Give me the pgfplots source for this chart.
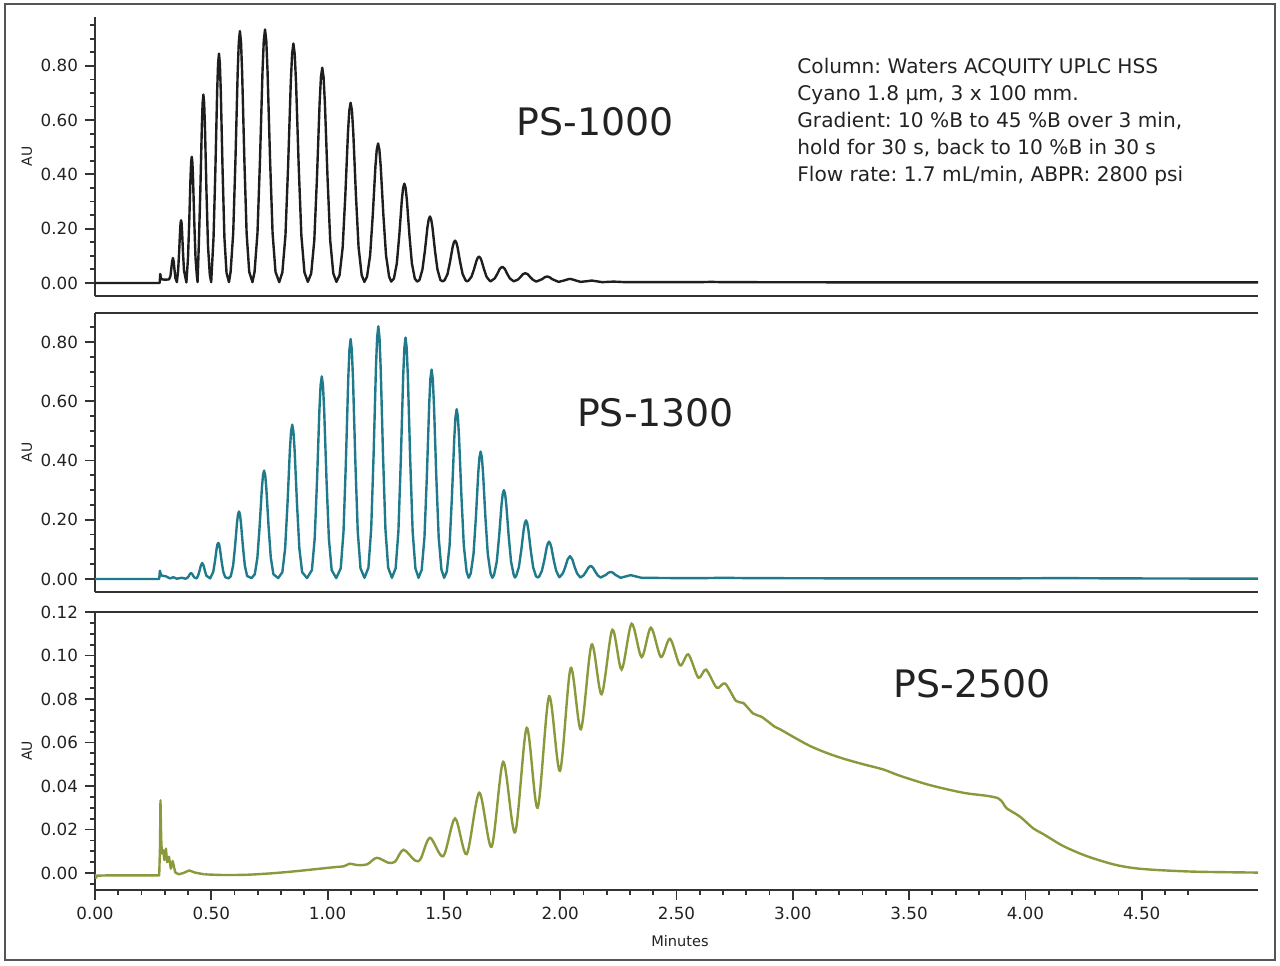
\documentclass[border=0pt]{standalone}
\usepackage{fontspec}
\setmainfont{DejaVu Sans}
\usepackage{pgfplots}
\pgfplotsset{compat=1.18}
\definecolor{axcol}{HTML}{333333}
\definecolor{framecol}{HTML}{555555}
\definecolor{sone}{HTML}{1E1E1E}
\definecolor{stwo}{HTML}{1F7A8C}
\definecolor{sthree}{HTML}{8A993C}
\definecolor{txt}{HTML}{222222}
\pgfplotsset{
  chrom/.style={
    scale only axis, width=581.5bp, xmin=0, xmax=5.0,
    axis x line=bottom, axis y line=left,
    axis line style={-, draw=axcol, line width=1bp},
    tick align=outside,
    major tick length=5bp, minor tick length=2.6bp,
    every tick/.style={axcol, line width=0.9bp},
    clip mode=individual,
    tick label style={font=\fontsize{8.4}{10}\selectfont, text=txt},
    yticklabel style={/pgf/number format/.cd, fixed, fixed zerofill, precision=2, assume math mode=true},
    xticklabel style={/pgf/number format/.cd, fixed, fixed zerofill, precision=2, assume math mode=true},
    ylabel={AU},
    ylabel style={at={(axis description cs:-0.0585,0.5)}, anchor=center, font=\fontsize{7}{8}\selectfont, text=txt},
    anchor=south west,
  }
}
\begin{document}
\frenchspacing
\begin{tikzpicture}
\path[use as bounding box] (0,0) rectangle (640bp,483bp);
\draw[framecol, line width=1bp] (2.5bp,3bp) rectangle (637.5bp,481bp);

% Panel 1: PS-1000
\begin{axis}[chrom, at={(47.5bp,335bp)}, height=139.5bp,
  ymin=-0.048, ymax=0.98, xtick=\empty,
  ytick={0,0.2,0.4,0.6,0.8},
  minor ytick={0.05,0.1,0.15,0.25,0.3,0.35,0.45,0.5,0.55,0.65,0.7,0.75,0.85,0.9,0.95}]
\addplot[sone, line width=1.2bp, line join=round] coordinates {
(0,0) (0.278,0) (0.2805,0.033) (0.2845,0.014) (0.300,0.012) (0.318,0.013)
(0.3242,0.025) (0.3278,0.050) (0.3314,0.078) (0.335,0.092) (0.3386,0.077) (0.3422,0.045) (0.3458,0.018) (0.352,0.003)
(0.3574,0.046) (0.3616,0.112) (0.3658,0.193) (0.3679,0.221) (0.370,0.231) (0.3721,0.221) (0.3742,0.193) (0.3784,0.112) (0.3826,0.046) (0.393,0.002)
(0.3998,0.092) (0.4052,0.226) (0.4106,0.388) (0.4133,0.445) (0.416,0.465) (0.4187,0.445) (0.4214,0.388) (0.4268,0.226) (0.4322,0.092) (0.4385,0.020) (0.441,0.003)
(0.4462,0.137) (0.4528,0.338) (0.4594,0.579) (0.4627,0.663) (0.466,0.694) (0.4693,0.663) (0.4726,0.579) (0.4792,0.338) (0.4858,0.137) (0.4935,0.031) (0.4995,0.003)
(0.5096,0.167) (0.5174,0.412) (0.5252,0.706) (0.5291,0.808) (0.533,0.845) (0.5369,0.808) (0.5408,0.706) (0.5486,0.412) (0.5564,0.167) (0.5655,0.037) (0.576,0.003)
(0.583,0.041) (0.5942,0.184) (0.6038,0.452) (0.6134,0.775) (0.6182,0.887) (0.623,0.928) (0.6278,0.887) (0.6326,0.775) (0.6422,0.452) (0.6518,0.184) (0.663,0.041) (0.677,0.003)
(0.686,0.041) (0.6986,0.185) (0.7094,0.455) (0.7202,0.780) (0.7256,0.893) (0.731,0.934) (0.7364,0.893) (0.7418,0.780) (0.7526,0.455) (0.7634,0.185) (0.776,0.041) (0.792,0.003)
(0.8055,0.039) (0.8188,0.175) (0.8302,0.430) (0.8416,0.736) (0.8473,0.843) (0.853,0.882) (0.8587,0.843) (0.8644,0.736) (0.8758,0.430) (0.8872,0.175) (0.9005,0.039) (0.915,0.004)
(0.9295,0.035) (0.9428,0.157) (0.9542,0.386) (0.9656,0.662) (0.9713,0.758) (0.977,0.793) (0.9827,0.758) (0.9884,0.662) (0.9998,0.386) (1.0112,0.157) (1.0245,0.035) (1.038,0.004)
(1.0515,0.029) (1.0648,0.131) (1.0762,0.323) (1.0876,0.554) (1.0933,0.635) (1.099,0.664) (1.1047,0.635) (1.1104,0.554) (1.1218,0.323) (1.1332,0.131) (1.1465,0.029) (1.158,0.004)
(1.1695,0.023) (1.1828,0.102) (1.1942,0.250) (1.2056,0.429) (1.2113,0.491) (1.217,0.514) (1.2227,0.491) (1.2284,0.429) (1.2398,0.250) (1.2512,0.102) (1.2645,0.023) (1.2735,0.005)
(1.285,0.016) (1.2976,0.072) (1.3084,0.178) (1.3192,0.306) (1.3246,0.350) (1.330,0.366) (1.3354,0.350) (1.3408,0.306) (1.3516,0.178) (1.3624,0.072) (1.375,0.016) (1.385,0.005)
(1.395,0.011) (1.4076,0.049) (1.4184,0.119) (1.4292,0.205) (1.4346,0.234) (1.440,0.245) (1.4454,0.234) (1.4508,0.205) (1.4616,0.119) (1.4724,0.049) (1.485,0.011) (1.494,0.006)
(1.503,0.010) (1.5156,0.033) (1.5264,0.078) (1.5372,0.131) (1.5426,0.149) (1.548,0.156) (1.5534,0.149) (1.5588,0.131) (1.5696,0.078) (1.5804,0.033) (1.593,0.010) (1.600,0.006)
(1.606,0.009) (1.6186,0.023) (1.6294,0.050) (1.6402,0.082) (1.6456,0.093) (1.651,0.097) (1.6564,0.093) (1.6618,0.082) (1.6726,0.050) (1.6834,0.023) (1.696,0.009) (1.701,0.006)
(1.7186,0.017) (1.7294,0.033) (1.7402,0.052) (1.751,0.060) (1.7618,0.052) (1.7726,0.033) (1.7834,0.017) (1.800,0.006)
(1.8176,0.012) (1.8284,0.021) (1.8392,0.032) (1.850,0.036) (1.8608,0.032) (1.8716,0.021) (1.8824,0.012) (1.897,0.005)
(1.9224,0.014) (1.9332,0.021) (1.944,0.024) (1.9548,0.021) (1.9656,0.014) (1.993,0.004)
(2.0204,0.010) (2.0312,0.013) (2.042,0.015) (2.0528,0.013) (2.0636,0.010) (2.088,0.004)
(2.12,0.007) (2.135,0.009) (2.15,0.007) (2.18,0.003)
(2.23,0.005) (2.28,0.003) (2.6,0.003) (2.65,0.004) (2.7,0.003) (3.5,0.002) (4.0,0.002) (5.0,0.002)
};
\node[font=\fontsize{19}{22}\selectfont, text=txt] at (axis cs:2.15,0.594) {PS-1000};
\node[anchor=north west, align=left, inner sep=0pt, font=\fontsize{10.1}{13.5}\selectfont, text=txt] at (axis cs:3.018,0.829)
{Column: Waters ACQUITY UPLC HSS\\Cyano 1.8 µm, 3 x 100 mm.\\Gradient: 10 \%B to 45 \%B over 3 min,\\hold for 30 s, back to 10 \%B in 30 s\\Flow rate: 1.7 mL/min, ABPR: 2800 psi};
\end{axis}

% Panel 2: PS-1300
\begin{axis}[chrom, at={(47.5bp,187bp)}, height=139.5bp,
  ymin=-0.0439, ymax=0.898, xtick=\empty,
  ytick={0,0.2,0.4,0.6,0.8},
  minor ytick={0.05,0.1,0.15,0.25,0.3,0.35,0.45,0.5,0.55,0.65,0.7,0.75,0.85}]
\addplot[stwo, line width=1.2bp, line join=round] coordinates {
(0,0) (0.276,0) (0.279,0.028) (0.284,0.012) (0.305,0.009) (0.322,0.002) (0.337,0.006) (0.351,0.001) (0.373,0.004) (0.390,0.001)
(0.3986,0.005) (0.4034,0.010) (0.4082,0.017) (0.413,0.020) (0.4178,0.017) (0.4226,0.010) (0.4274,0.005) (0.437,0.002)
(0.443,0.011) (0.449,0.026) (0.455,0.045) (0.461,0.054) (0.467,0.045) (0.473,0.026) (0.479,0.011) (0.495,0.002)
(0.5084,0.024) (0.5156,0.059) (0.5228,0.102) (0.5264,0.117) (0.530,0.122) (0.5336,0.117) (0.5372,0.102) (0.5444,0.059) (0.5516,0.024) (0.560,0.006) (0.574,0.002)
(0.584,0.010) (0.5938,0.045) (0.6022,0.111) (0.6106,0.190) (0.6148,0.218) (0.619,0.228) (0.6232,0.218) (0.6274,0.190) (0.6358,0.111) (0.6442,0.045) (0.654,0.010) (0.673,0.003)
(0.687,0.016) (0.6982,0.072) (0.7078,0.178) (0.7174,0.306) (0.7222,0.350) (0.727,0.366) (0.7318,0.350) (0.7366,0.306) (0.7462,0.178) (0.7558,0.072) (0.767,0.016) (0.7875,0.003)
(0.8055,0.023) (0.8174,0.103) (0.8276,0.254) (0.8378,0.435) (0.8429,0.498) (0.848,0.521) (0.8531,0.498) (0.8582,0.435) (0.8684,0.254) (0.8786,0.103) (0.8905,0.023) (0.9115,0.003)
(0.9325,0.030) (0.9444,0.135) (0.9546,0.333) (0.9648,0.571) (0.9699,0.654) (0.975,0.684) (0.9801,0.654) (0.9852,0.571) (0.9954,0.333) (1.0056,0.135) (1.0175,0.030) (1.037,0.003)
(1.0565,0.036) (1.0684,0.160) (1.0786,0.394) (1.0888,0.676) (1.0939,0.774) (1.099,0.810) (1.1041,0.774) (1.1092,0.676) (1.1194,0.394) (1.1296,0.160) (1.1415,0.036) (1.1585,0.004)
(1.1755,0.038) (1.1874,0.169) (1.1976,0.415) (1.2078,0.712) (1.2129,0.815) (1.218,0.853) (1.2231,0.815) (1.2282,0.712) (1.2384,0.415) (1.2486,0.169) (1.2605,0.038) (1.2765,0.004)
(1.2925,0.036) (1.3044,0.161) (1.3146,0.397) (1.3248,0.681) (1.3299,0.779) (1.335,0.815) (1.3401,0.779) (1.3452,0.681) (1.3554,0.397) (1.3656,0.161) (1.3775,0.036) (1.391,0.004)
(1.4045,0.031) (1.4164,0.140) (1.4266,0.344) (1.4368,0.590) (1.4419,0.676) (1.447,0.707) (1.4521,0.676) (1.4572,0.590) (1.4674,0.344) (1.4776,0.140) (1.4895,0.031) (1.501,0.004)
(1.5125,0.025) (1.5244,0.113) (1.5346,0.279) (1.5448,0.478) (1.5499,0.548) (1.555,0.573) (1.5601,0.548) (1.5652,0.478) (1.5754,0.279) (1.5856,0.113) (1.5975,0.025) (1.6065,0.004)
(1.6155,0.019) (1.6274,0.085) (1.6376,0.209) (1.6478,0.359) (1.6529,0.411) (1.658,0.430) (1.6631,0.411) (1.6682,0.359) (1.6784,0.209) (1.6886,0.085) (1.7005,0.019) (1.708,0.004)
(1.7155,0.013) (1.7274,0.059) (1.7376,0.146) (1.7478,0.251) (1.7529,0.287) (1.758,0.300) (1.7631,0.287) (1.7682,0.251) (1.7784,0.146) (1.7886,0.059) (1.8005,0.013) (1.8055,0.005)
(1.8105,0.010) (1.8224,0.040) (1.8326,0.097) (1.8428,0.165) (1.8479,0.189) (1.853,0.198) (1.8581,0.189) (1.8632,0.165) (1.8734,0.097) (1.8836,0.040) (1.8955,0.010) (1.9025,0.005)
(1.9095,0.008) (1.9214,0.028) (1.9316,0.063) (1.9418,0.106) (1.9469,0.120) (1.952,0.126) (1.9571,0.120) (1.9622,0.106) (1.9724,0.063) (1.9826,0.028) (1.9945,0.008) (1.997,0.006)
(2.0114,0.019) (2.0216,0.040) (2.0318,0.066) (2.042,0.077) (2.0522,0.066) (2.0624,0.040) (2.0726,0.019) (2.0865,0.005)
(2.1004,0.012) (2.1106,0.024) (2.1208,0.038) (2.131,0.045) (2.1412,0.038) (2.1514,0.024) (2.1616,0.012) (2.174,0.005)
(2.1966,0.014) (2.2068,0.021) (2.217,0.024) (2.2272,0.021) (2.2374,0.014) (2.26,0.004)
(2.283,0.009) (2.303,0.013) (2.323,0.009) (2.35,0.004)
(2.5,0.003) (2.62,0.003) (2.7,0.004) (2.8,0.003) (3.3,0.002) (3.9,0.002) (4.15,0.003) (4.4,0.002) (5.0,0.001)
};
\draw[axcol, line width=1bp] (rel axis cs:0,1) -- (rel axis cs:1,1);
\node[font=\fontsize{19}{22}\selectfont, text=txt] at (axis cs:2.41,0.560) {PS-1300};
\end{axis}

% Panel 3: PS-2500
\begin{axis}[chrom, at={(47.5bp,38bp)}, height=139bp,
  ymin=-0.0078, ymax=0.12,
  ytick={0,0.02,0.04,0.06,0.08,0.1,0.12},
  minor ytick={-0.005,0.005,0.01,0.015,0.025,0.03,0.035,0.045,0.05,0.055,0.065,0.07,0.075,0.085,0.09,0.095,0.105,0.11,0.115},
  xtick={0,0.5,1,1.5,2,2.5,3,3.5,4,4.5},
  minor xtick={0.1,0.2,0.3,0.4,0.6,0.7,0.8,0.9,1.1,1.2,1.3,1.4,1.6,1.7,1.8,1.9,2.1,2.2,2.3,2.4,2.6,2.7,2.8,2.9,3.1,3.2,3.3,3.4,3.6,3.7,3.8,3.9,4.1,4.2,4.3,4.4,4.6,4.7},
  xlabel={Minutes},
  xlabel style={at={(axis description cs:0.503,-0.183)}, anchor=center, font=\fontsize{7.3}{8}\selectfont, text=txt}]
\addplot[sthree, line width=1.2bp, line join=round] coordinates {
(0.000,-0.0005) (0.004,-0.0022) (0.010,-0.0012) (0.05,-0.0011) (0.276,-0.0011) (0.2795,0.012) (0.2815,0.0334) (0.2845,0.016) (0.2875,0.009) (0.293,0.0105) (0.298,0.006) (0.305,0.0112) (0.310,0.005) (0.318,0.0075) (0.326,0.002) (0.334,0.0055) (0.345,0.0003) (0.36,-0.0006) (0.38,0.0000) (0.405,0.0012) (0.43,0.0002) (0.47,-0.0006)
};
\addplot[sthree, line width=1.2bp, smooth, tension=0.5] coordinates {
(0.47,-0.0006) (0.55,-0.0009) (0.65,-0.0008) (0.75,-0.0002) (0.85,0.0007) (0.95,0.0018) (1.03,0.0027) (1.07,0.0031) (1.095,0.0043) (1.125,0.0037) (1.17,0.0040) (1.211,0.0070) (1.26,0.0048) (1.29,0.0052) (1.326,0.0107) (1.375,0.0058) (1.40,0.0065) (1.440,0.0162) (1.497,0.0077) (1.548,0.0251) (1.598,0.0087) (1.652,0.0369) (1.705,0.0121) (1.755,0.0511) (1.806,0.0187) (1.856,0.0667) (1.903,0.030) (1.952,0.0812) (1.999,0.047) (2.045,0.0942) (2.089,0.0661) (2.135,0.1050) (2.178,0.0822) (2.224,0.1118) (2.264,0.0936) (2.307,0.1146) (2.350,0.0993) (2.390,0.1128) (2.433,0.0993) (2.472,0.1077) (2.515,0.0955) (2.551,0.1005) (2.594,0.0898) (2.627,0.0935) (2.673,0.0852) (2.709,0.0871) (2.756,0.0791) (2.787,0.0782) (2.830,0.0733) (2.866,0.0718) (2.923,0.0672) (2.945,0.0661) (3.002,0.0626) (3.074,0.0584) (3.146,0.0552) (3.217,0.0526) (3.303,0.0500) (3.389,0.0476) (3.461,0.0447) (3.590,0.0404) (3.733,0.0369) (3.834,0.0355) (3.884,0.0343) (3.905,0.032) (3.920,0.0297) (3.977,0.0259) (4.034,0.0205) (4.077,0.0179) (4.163,0.0124) (4.263,0.0078) (4.378,0.0040) (4.464,0.0023) (4.565,0.0014) (4.736,0.0006) (5.0,0.0002)
};
\draw[axcol, line width=1bp] (rel axis cs:0,1) -- (rel axis cs:1,1);
\node[font=\fontsize{19}{22}\selectfont, text=txt] at (axis cs:3.77,0.0869) {PS-2500};
\end{axis}
\end{tikzpicture}
\end{document}
